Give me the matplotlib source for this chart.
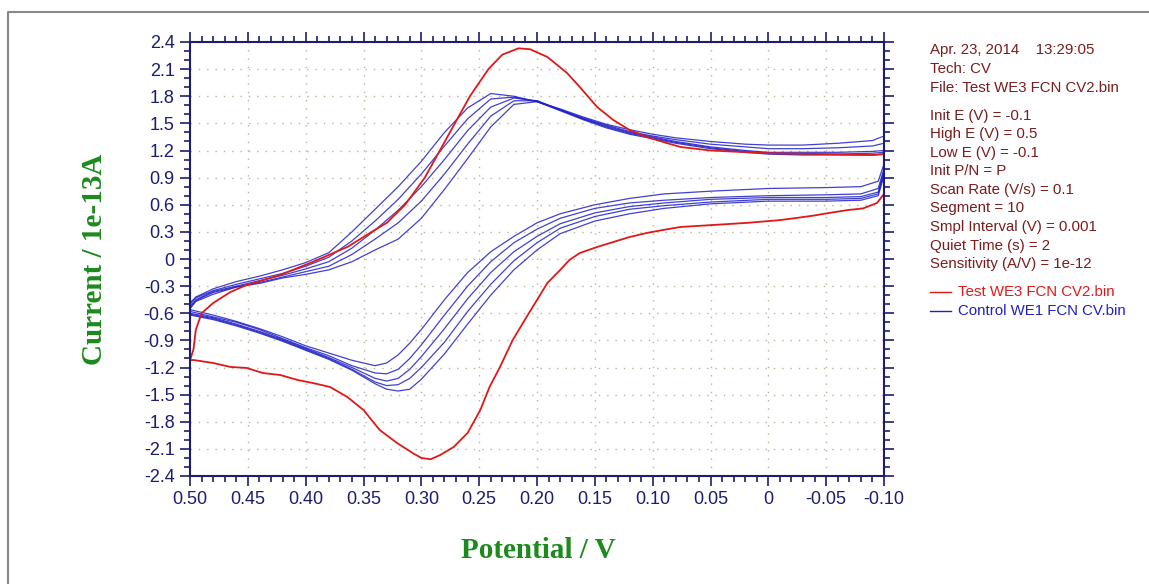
import numpy as np
import matplotlib
matplotlib.use('Agg')
import matplotlib.pyplot as plt
from matplotlib.ticker import FixedLocator, MultipleLocator
from matplotlib.lines import Line2D

plt.rcParams['axes.unicode_minus'] = False

# --- data (potential in V, current in 1e-13 A) ---

# red: test electrode, positive sweep (-0.1 -> 0.5)
red_low_E = [-0.100, -0.094, -0.082, -0.068, -0.053, -0.039, -0.025, -0.010, 0.018, 0.048,
             0.076, 0.091, 0.105, 0.120, 0.134, 0.148, 0.163, 0.172, 0.180, 0.191,
             0.200, 0.209, 0.221, 0.232, 0.241, 0.249, 0.260, 0.272, 0.284, 0.292,
             0.300, 0.307, 0.321, 0.336, 0.350, 0.364, 0.379, 0.394, 0.407, 0.422,
             0.437, 0.451, 0.465, 0.480, 0.497, 0.500]
red_low_I = [0.72, 0.62, 0.56, 0.54, 0.51, 0.48, 0.455, 0.43, 0.40, 0.376,
             0.354, 0.321, 0.288, 0.243, 0.188, 0.133, 0.066, -0.011, -0.122, -0.265,
             -0.453, -0.641, -0.896, -1.194, -1.415, -1.670, -1.924, -2.079, -2.170, -2.215,
             -2.200, -2.150, -2.035, -1.891, -1.670, -1.526, -1.415, -1.371, -1.338, -1.283,
             -1.261, -1.205, -1.194, -1.150, -1.117, -1.12]

# red: negative sweep (0.5 -> -0.1)
red_up_E = [0.500, 0.497, 0.495, 0.490, 0.480, 0.465, 0.451, 0.422, 0.394, 0.364,
            0.336, 0.330, 0.314, 0.297, 0.284, 0.271, 0.258, 0.242, 0.230, 0.216,
            0.206, 0.191, 0.174, 0.163, 0.148, 0.134, 0.120, 0.105, 0.088, 0.076,
            0.050, 0.000, -0.050, -0.090, -0.100]
red_up_I = [-1.12, -1.00, -0.785, -0.60, -0.487, -0.365, -0.287, -0.177, -0.033, 0.133,
            0.354, 0.398, 0.60, 0.90, 1.20, 1.50, 1.80, 2.10, 2.26, 2.33,
            2.32, 2.234, 2.057, 1.902, 1.681, 1.537, 1.427, 1.349, 1.283, 1.239,
            1.20, 1.17, 1.16, 1.15, 1.16]

# blue: control electrode, five cycles
blue_low_E = [-0.10, -0.095, -0.08, -0.05, 0.0, 0.05, 0.09, 0.12, 0.15, 0.18,
              0.20, 0.22, 0.24, 0.26, 0.28, 0.30, 0.31, 0.32, 0.33, 0.34,
              0.36, 0.38, 0.40, 0.42, 0.44, 0.46, 0.48, 0.50]
blue_low_1 = [1.05, 0.86, 0.80, 0.79, 0.78, 0.75, 0.72, 0.67, 0.60, 0.50,
              0.40, 0.25, 0.08, -0.15, -0.45, -0.78, -0.93, -1.06, -1.15, -1.18,
              -1.12, -1.04, -0.96, -0.86, -0.77, -0.69, -0.62, -0.56]
blue_low_2 = [1.00, 0.78, 0.72, 0.71, 0.70, 0.68, 0.65, 0.62, 0.56, 0.45,
              0.33, 0.18, -0.03, -0.30, -0.62, -0.95, -1.10, -1.22, -1.27, -1.26,
              -1.18, -1.07, -0.98, -0.88, -0.78, -0.70, -0.64, -0.58]
blue_low_3 = [0.98, 0.74, 0.69, 0.68, 0.68, 0.66, 0.62, 0.58, 0.51, 0.39,
              0.25, 0.08, -0.15, -0.44, -0.77, -1.08, -1.22, -1.32, -1.35, -1.32,
              -1.20, -1.09, -0.99, -0.89, -0.80, -0.72, -0.65, -0.60]
blue_low_4 = [0.95, 0.72, 0.67, 0.66, 0.66, 0.63, 0.59, 0.55, 0.47, 0.34,
              0.18, -0.02, -0.28, -0.58, -0.92, -1.20, -1.32, -1.39, -1.40, -1.36,
              -1.22, -1.10, -1.00, -0.90, -0.81, -0.73, -0.66, -0.61]
blue_low_5 = [0.92, 0.70, 0.65, 0.64, 0.64, 0.61, 0.56, 0.50, 0.42, 0.28,
              0.10, -0.12, -0.40, -0.72, -1.05, -1.33, -1.44, -1.46, -1.44, -1.38,
              -1.23, -1.11, -1.01, -0.91, -0.82, -0.74, -0.67, -0.62]

blue_up_E = [0.50, 0.495, 0.48, 0.46, 0.44, 0.42, 0.40, 0.38, 0.36, 0.34,
             0.32, 0.30, 0.28, 0.26, 0.24, 0.22, 0.20, 0.18, 0.16, 0.14,
             0.12, 0.10, 0.08, 0.05, 0.02, 0.0, -0.03, -0.06, -0.09, -0.10]
blue_up_1 = [-0.50, -0.42, -0.33, -0.25, -0.19, -0.12, -0.04, 0.07, 0.30, 0.55,
             0.80, 1.08, 1.40, 1.67, 1.83, 1.80, 1.74, 1.66, 1.57, 1.49,
             1.43, 1.38, 1.34, 1.30, 1.27, 1.26, 1.26, 1.28, 1.31, 1.36]
blue_up_2 = [-0.48, -0.43, -0.35, -0.28, -0.22, -0.16, -0.08, 0.02, 0.20, 0.42,
             0.66, 0.94, 1.25, 1.55, 1.77, 1.79, 1.74, 1.65, 1.56, 1.48,
             1.41, 1.36, 1.32, 1.27, 1.24, 1.22, 1.22, 1.23, 1.25, 1.28]
blue_up_3 = [-0.52, -0.45, -0.36, -0.30, -0.24, -0.18, -0.11, -0.03, 0.12, 0.32,
             0.54, 0.80, 1.10, 1.42, 1.68, 1.78, 1.75, 1.65, 1.55, 1.47,
             1.40, 1.35, 1.30, 1.24, 1.20, 1.18, 1.18, 1.18, 1.19, 1.20]
blue_up_4 = [-0.54, -0.46, -0.37, -0.31, -0.26, -0.20, -0.14, -0.08, 0.05, 0.22,
             0.40, 0.64, 0.94, 1.27, 1.58, 1.75, 1.75, 1.65, 1.55, 1.46,
             1.39, 1.34, 1.29, 1.23, 1.19, 1.17, 1.16, 1.16, 1.17, 1.18]
blue_up_5 = [-0.55, -0.47, -0.39, -0.31, -0.27, -0.21, -0.17, -0.12, -0.03, 0.10,
             0.22, 0.45, 0.77, 1.11, 1.46, 1.71, 1.74, 1.64, 1.54, 1.45,
             1.38, 1.33, 1.28, 1.22, 1.18, 1.16, 1.15, 1.15, 1.15, 1.16]

blue_low = [blue_low_1, blue_low_2, blue_low_3, blue_low_4, blue_low_5]
blue_up = [blue_up_1, blue_up_2, blue_up_3, blue_up_4, blue_up_5]

xticks = [0.50, 0.45, 0.40, 0.35, 0.30, 0.25, 0.20, 0.15, 0.10, 0.05, 0.0, -0.05, -0.10]
xtick_labels = ['0.50', '0.45', '0.40', '0.35', '0.30', '0.25', '0.20', '0.15', '0.10',
                '0.05', '0', '-0.05', '-0.10']
yticks = [2.4, 2.1, 1.8, 1.5, 1.2, 0.9, 0.6, 0.3, 0.0, -0.3, -0.6, -0.9, -1.2,
          -1.5, -1.8, -2.1, -2.4]
ytick_labels = ['2.4', '2.1', '1.8', '1.5', '1.2', '0.9', '0.6', '0.3', '0', '-0.3',
                '-0.6', '-0.9', '-1.2', '-1.5', '-1.8', '-2.1', '-2.4']

info_lines = ['Apr. 23, 2014    13:29:05', 'Tech: CV', 'File: Test WE3 FCN CV2.bin',
              'Init E (V) = -0.1', 'High E (V) = 0.5', 'Low E (V) = -0.1', 'Init P/N = P',
              'Scan Rate (V/s) = 0.1', 'Segment = 10', 'Smpl Interval (V) = 0.001',
              'Quiet Time (s) = 2', 'Sensitivity (A/V) = 1e-12']
legend_names = ['Test WE3 FCN CV2.bin', 'Control WE1 FCN CV.bin']

# --- drawing ---
W, H = 1149, 584
navy = '#1c1c70'
red = '#e01818'
blue = '#2020c8'
green = '#1c8a1c'
maroon = '#7a1c1c'

fig = plt.figure(figsize=(W / 100, H / 100), dpi=100)
ax = fig.add_axes([190 / W, 1 - 476 / H, (884 - 190) / W, (476 - 42) / H])

for lo, up in zip(blue_low, blue_up):
    ax.plot(blue_low_E + blue_up_E, lo + up, color=blue, lw=0.9, alpha=0.85)
ax.plot(red_low_E + red_up_E, red_low_I + red_up_I, color=red, lw=1.3)

ax.set_xlim(0.5, -0.1)
ax.set_ylim(-2.4, 2.4)
ax.xaxis.set_major_locator(FixedLocator(xticks))
ax.set_xticklabels(xtick_labels)
ax.xaxis.set_minor_locator(MultipleLocator(0.01))
ax.yaxis.set_major_locator(FixedLocator(yticks))
ax.set_yticklabels(ytick_labels)
ax.yaxis.set_minor_locator(MultipleLocator(0.1))

ax.tick_params(which='both', direction='out', top=True, right=True, color=navy,
               labelcolor=navy, labelsize=13, width=1.2)
ax.tick_params(which='major', length=7, pad=4)
ax.tick_params(which='minor', length=4)
for lab in ax.get_xticklabels() + ax.get_yticklabels():
    lab.set_family('Liberation Sans')
for s in ax.spines.values():
    s.set_color(navy)
    s.set_linewidth(1.5)

ax.grid(True, which='major', color='#b8b49a', linestyle=(0, (1, 5)), lw=1.0)

fig.text(538 / W, 1 - 550 / H, 'Potential / V', color=green, fontsize=21,
         fontweight='bold', family='Liberation Serif', ha='center', va='center')
fig.text(95 / W, 1 - 259 / H, 'Current / 1e-13A', color=green, fontsize=21,
         fontweight='bold', family='Liberation Serif', ha='center', va='center',
         rotation=90)

ys = [50, 69, 88, 116, 134, 153, 171, 190, 208, 227, 246, 264]
for txt, yy in zip(info_lines, ys):
    fig.text(930 / W, 1 - yy / H, txt, color=maroon, fontsize=10.8,
             family='Liberation Sans', ha='left', va='center')

for name, col, yy in zip(legend_names, [red, blue], [292, 311]):
    fig.add_artist(Line2D([930 / W, 951 / W], [1 - yy / H, 1 - yy / H], color=col, lw=1.0))
    fig.text(958 / W, 1 - yy / H, name, color=col, fontsize=10.8,
             family='Liberation Sans', ha='left', va='center')

# grey outer frame
fig.add_artist(Line2D([8 / W, 8 / W, 1.0], [0.0, 1 - 12 / H, 1 - 12 / H],
                      color='#888888', lw=1.5))

fig.savefig('out.png', dpi=100)
